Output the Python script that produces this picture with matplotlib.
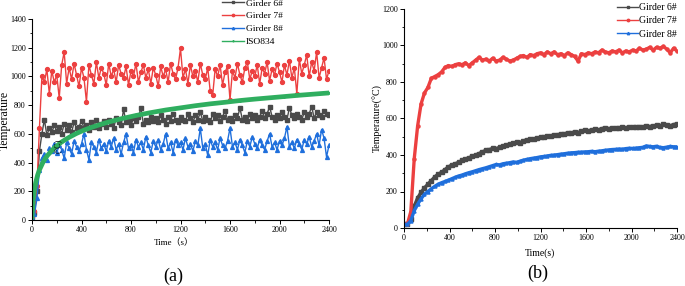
import matplotlib
matplotlib.use("Agg")
import matplotlib.pyplot as plt
from matplotlib.ticker import MultipleLocator

plt.rcParams['font.family'] = ['Liberation Serif', 'Noto Sans CJK SC', 'DejaVu Sans']

# ---------------- Panel (a) data (20 s steps) ----------------
time_a = list(range(0, 2401, 20))
girder6_a = [20, 50, 200, 480, 600, 700, 590, 640, 610, 660,
             620, 650, 600, 670, 630, 660, 610, 680, 640, 650,
             690, 640, 660, 630, 680, 650, 700, 640, 670, 690,
             650, 700, 670, 640, 710, 680, 660, 770, 680, 700,
             660, 710, 690, 720, 780, 670, 700, 680, 720, 690,
             710, 680, 730, 700, 670, 720, 690, 740, 700, 680,
             720, 700, 690, 740, 710, 680, 730, 700, 750, 690,
             720, 700, 680, 740, 710, 730, 690, 720, 760, 700,
             710, 690, 730, 710, 780, 700, 720, 690, 740, 710,
             730, 700, 720, 760, 710, 740, 790, 720, 700, 730,
             710, 750, 720, 700, 780, 730, 710, 740, 720, 700,
             750, 720, 740, 790, 710, 750, 730, 720, 760, 740,
             730]
girder7_a = [20, 60, 240, 640, 1000, 960, 1050, 880, 1040, 960,
             1010, 850, 1080, 1170, 950, 1060, 980, 1090, 1010, 930,
             1060, 990, 824, 1080, 1010, 950, 1100, 990, 1060, 1020,
             940, 1090, 1000, 1050, 960, 1080, 1020, 990, 1070, 940,
             1040, 1000, 1090, 960, 1030, 1080, 990, 1050, 950, 1060,
             1010, 930, 1070, 1000, 1050, 960, 1090, 1020, 980, 1060,
             1195, 990, 1050, 950, 1080, 1000, 1040, 960, 1090, 1010,
             980, 1060, 900, 870, 1050, 1000, 1080, 940, 1030, 1070,
             836, 1040, 990, 1090, 1010, 960, 1060, 1100, 980, 1040,
             1000, 1080, 950, 1060, 1020, 1100, 970, 1050, 1010, 1090,
             1030, 960, 1080, 1010, 1110, 990, 1060, 880, 1120, 1020,
             1080, 1150, 1000, 1100, 1040, 1170, 990, 1060, 1130, 980,
             1040]
girder8_a = [20, 40, 150, 350, 430, 460, 420, 500, 480, 530,
             470, 520, 490, 430, 540, 500, 460, 550, 510, 480,
             530, 600, 490, 420, 540, 510, 470, 560, 500, 530,
             480, 550, 510, 570, 490, 530, 460, 540, 600, 500,
             520, 470, 560, 510, 540, 490, 580, 520, 470, 550,
             510, 560, 490, 530, 600, 500, 540, 470, 560, 520,
             540, 490, 570, 510, 530, 480, 550, 520, 640, 500,
             530, 450, 560, 510, 540, 490, 570, 520, 500, 550,
             640, 510, 540, 490, 560, 520, 470, 550, 510, 580,
             530, 500, 560, 520, 490, 550, 600, 510, 540, 490,
             550, 520, 570, 650, 510, 540, 500, 560, 530, 490,
             560, 530, 580, 510, 550, 600, 520, 630, 570, 440,
             520]
iso_time = [0, 10, 20, 30, 45, 60, 90, 120, 180, 240, 300, 360, 420, 480, 600,
            720, 840, 960, 1080, 1200, 1320, 1440, 1560, 1680, 1800, 1920,
            2040, 2160, 2280, 2400]
iso834 = [20, 147, 215, 261, 312, 349, 404, 445, 502, 544, 576, 603, 626, 645, 678,
          705, 728, 748, 766, 781, 796, 809, 820, 832, 842, 851,
          860, 869, 877, 885]

# ---------------- Panel (b) data (30 s steps) ----------------
time_b = list(range(0, 2401, 30))
girder6_b = [20, 22, 50, 120, 165, 195, 220, 240, 260, 280,
             295, 305, 320, 335, 345, 352, 360, 370, 378, 385,
             392, 400, 408, 418, 425, 430, 436, 435, 442, 448,
             455, 460, 465, 470, 468, 478, 483, 485, 488, 493,
             497, 500, 503, 505, 510, 512, 513, 517, 520, 522,
             525, 523, 530, 535, 533, 537, 540, 538, 545, 548,
             545, 547, 550, 548, 552, 550, 553, 555, 552, 556,
             555, 558, 556, 560, 562, 560, 568, 565, 560, 567,
             570]
girder7_b = [20, 22, 90, 380, 560, 680, 740, 770, 820, 830,
             840, 855, 880, 890, 885, 895, 900, 895, 905, 890,
             905, 920, 935, 920, 925, 915, 930, 915, 920, 935,
             925, 915, 920, 930, 940, 945, 935, 950, 945, 955,
             960, 950, 965, 955, 965, 950, 955, 945, 960, 950,
             940, 915, 955, 950, 960, 955, 965, 960, 975, 965,
             960, 970, 965, 975, 960, 970, 965, 975, 970, 985,
             975, 980, 990, 975, 990, 985, 995, 980, 960, 985,
             970]
girder8_b = [20, 20, 40, 95, 130, 160, 185, 200, 215, 228,
             240, 248, 255, 262, 270, 278, 285, 290, 297, 303,
             308, 314, 320, 325, 330, 336, 342, 348, 346, 352,
             355, 358, 362, 360, 366, 372, 376, 380, 383, 386,
             390, 392, 395, 398, 400, 402, 405, 407, 410, 412,
             413, 415, 416, 417, 418, 420, 418, 421, 423, 426,
             428, 430, 431, 433, 432, 435, 437, 436, 438, 440,
             442, 450, 447, 445, 448, 442, 440, 443, 447, 445,
             445]

labels = ["Girder 6#", "Girder 7#", "Girder 8#", "ISO834"]
c_gray, c_red, c_blue, c_green = "#4a4a4a", "#ec4040", "#1f6fdc", "#2fae5f"

W, H = 685, 286
fig = plt.figure(figsize=(W / 100, H / 100), dpi=100)

def px_axes(l, t, r, b):
    return fig.add_axes([l / W, 1 - b / H, (r - l) / W, (b - t) / H])

def style(ax, ymax, fs):
    for s in ("top", "right"):
        ax.spines[s].set_visible(False)
    for s in ("left", "bottom"):
        ax.spines[s].set_linewidth(0.8)
    ax.set_xlim(0, 2400)
    ax.set_ylim(0, ymax)
    ax.xaxis.set_major_locator(MultipleLocator(400))
    ax.xaxis.set_minor_locator(MultipleLocator(200))
    ax.yaxis.set_major_locator(MultipleLocator(200))
    ax.yaxis.set_minor_locator(MultipleLocator(100))
    ax.tick_params(which="major", direction="out", length=3, width=0.7, labelsize=fs, pad=1.5)
    ax.tick_params(which="minor", direction="out", length=1.8, width=0.6)

# ---- panel (a)
axa = px_axes(32, 19, 329, 220)
style(axa, 1400, 5.8)
axa.plot(time_a, girder6_a, color=c_gray, lw=1.0, marker="s", ms=2.8, label=labels[0])
axa.plot(time_a, girder7_a, color=c_red, lw=1.0, marker="o", ms=2.8, label=labels[1])
axa.plot(time_a, girder8_a, color=c_blue, lw=1.0, marker="^", ms=2.8, label=labels[2])
axa.plot(iso_time, iso834, color=c_green, lw=3.4, marker="v", ms=1.5, label=labels[3])
axa.text(210, 520, "(°C)", rotation=90, fontsize=6, ha="center", va="center")
leg = axa.legend(loc="upper left", bbox_to_anchor=(222 / W, 1 + 1 / H), bbox_transform=fig.transFigure,
                 frameon=False, fontsize=6.8, handlelength=2.3, handletextpad=0.2,
                 labelspacing=0.45, borderpad=0, borderaxespad=0, markerscale=0.6)
for ln in leg.get_lines():
    ln.set_linewidth(1.0)
fig.text(5 / W, 1 - 120 / H, "Temperature", rotation=90, fontsize=8.5, ha="center", va="center")
fig.text(174 / W, 1 - 243 / H, "Time（s）", fontsize=6.5, ha="center", va="center")
fig.text(173 / W, 1 - 276 / H, "(a)", fontsize=13, ha="center", va="center")

# ---- panel (b)
axb = px_axes(404, 9, 677, 228)
style(axb, 1200, 5.8)
axb.plot(time_b, girder6_b, color=c_gray, lw=2.4, marker="s", ms=2.2, label=labels[0])
axb.plot(time_b, girder7_b, color=c_red, lw=2.4, marker="o", ms=2.2, label=labels[1])
axb.plot(time_b, girder8_b, color=c_blue, lw=2.4, marker="^", ms=2.2, label=labels[2])
legb = axb.legend(loc="upper left", bbox_to_anchor=(617 / W, 1 - 3 / H), bbox_transform=fig.transFigure,
                  frameon=False, fontsize=7, handlelength=2.2, handletextpad=0.1,
                  labelspacing=0.45, borderpad=0, borderaxespad=0, markerscale=0.8)
for ln in legb.get_lines():
    ln.set_linewidth(1.0)
fig.text(378 / W, 1 - 118 / H, "Temperature(°C)", rotation=90, fontsize=7.2, ha="center", va="center")
fig.text(540 / W, 1 - 253 / H, "Time(s)", fontsize=7, ha="center", va="center")
fig.text(538 / W, 1 - 273 / H, "(b)", fontsize=13, ha="center", va="center")

fig.savefig("out.png", dpi=100)
